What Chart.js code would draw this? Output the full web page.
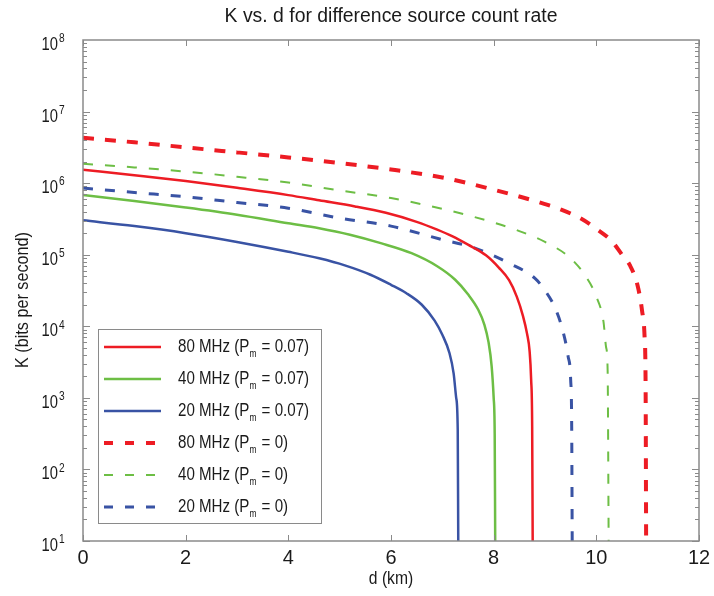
<!DOCTYPE html>
<html>
<head>
<meta charset="utf-8">
<script src="https://cdn.jsdelivr.net/npm/chart.js@4"></script>
<style>
  html, body { margin: 0; padding: 0; background: #fff; }
  #wrap { width: 714px; height: 596px; }
</style>
</head>
<body>
<div id="wrap"><canvas id="chart" width="714" height="596"></canvas></div>
<script>
// distance d (km) and key rate K (bits/s)

// 80 MHz, Pm = 0.07
const d80 = [0, 1, 2, 3, 4, 4.6, 5.3, 5.9, 6.5, 6.9, 7.2, 7.5, 7.85, 8.1, 8.3, 8.45, 8.57, 8.65, 8.7, 8.73, 8.75, 8.76];
const k80 = [1.54e6, 1.29e6, 1.07e6, 8.6e5, 6.8e5, 5.75e5, 4.73e5, 3.85e5, 2.88e5, 2.24e5, 1.8e5, 1.38e5, 9.8e4, 6.6e4, 4.4e4, 2.6e4, 1.4e4, 7.9e3, 4.5e3, 1.8e3, 400, 10];

// 40 MHz, Pm = 0.07
const d40 = [0, 1, 2, 3, 4, 4.6, 5.2, 5.8, 6.4, 6.9, 7.25, 7.5, 7.7, 7.82, 7.9, 7.96, 8.0, 8.02, 8.03];
const k40 = [6.82e5, 5.62e5, 4.57e5, 3.63e5, 2.75e5, 2.34e5, 1.9e5, 1.45e5, 1.05e5, 6.9e4, 4.47e4, 2.8e4, 1.7e4, 1.05e4, 6.0e3, 2.8e3, 1.0e3, 316, 10];

// 20 MHz, Pm = 0.07
const d20 = [0, 1, 2, 3, 4, 4.6, 5.1, 5.6, 6.0, 6.3, 6.6, 6.85, 7.0, 7.14, 7.22, 7.27, 7.3, 7.31];
const k20 = [3.02e5, 2.51e5, 2.0e5, 1.51e5, 1.1e5, 8.9e4, 7.1e4, 5.25e4, 3.8e4, 2.9e4, 2.0e4, 1.2e4, 7.6e3, 4.2e3, 2.2e3, 1.0e3, 355, 10];

// 80 MHz, Pm = 0
const d80z = [0, 1, 2, 3, 4, 5, 6, 7, 7.5, 8, 8.5, 9, 9.3, 9.7, 10, 10.3, 10.5, 10.65, 10.8, 10.89, 10.94, 10.96, 10.97];
const k80z = [4.3e6, 3.72e6, 3.16e6, 2.69e6, 2.29e6, 1.91e6, 1.55e6, 1.2e6, 1.0e6, 8.1e5, 6.5e5, 5.1e5, 4.3e5, 3.2e5, 2.3e5, 1.55e5, 1.0e5, 7.2e4, 3.8e4, 1.66e4, 7.1e3, 1.4e3, 10];

// 40 MHz, Pm = 0
const d40z = [0, 1, 2, 3, 4, 5, 6, 7, 7.5, 8, 8.5, 9, 9.5, 9.8, 10, 10.14, 10.19, 10.22, 10.24];
const k40z = [1.87e6, 1.66e6, 1.45e6, 1.23e6, 1.02e6, 7.9e5, 6.2e5, 4.37e5, 3.55e5, 2.82e5, 2.14e5, 1.51e5, 8.9e4, 4.9e4, 2.6e4, 1.15e4, 5.1e3, 2.45e3, 10];

// 20 MHz, Pm = 0
const d20z = [0, 1, 2, 3, 4, 5, 6, 7, 7.6, 8.3, 8.8, 9.0, 9.2, 9.35, 9.45, 9.5, 9.52, 9.53];
const k20z = [8.55e5, 7.4e5, 6.45e5, 5.37e5, 4.47e5, 3.24e5, 2.51e5, 1.62e5, 1.26e5, 7.6e4, 4.7e4, 3.16e4, 1.78e4, 8.5e3, 3.8e3, 1.78e3, 400, 10];

const xTicks = [0, 2, 4, 6, 8, 10, 12];
const yExponents = [1, 2, 3, 4, 5, 6, 7, 8];

const RED = '#ed1c24';
const GREEN = '#6dbe45';
const BLUE = '#3953a4';
const FONT = '"Liberation Sans", Arial, sans-serif';

const series = [
    { freq: '80 MHz', pm: '0.07', d: d80, k: k80, color: RED, width: 2.5, dash: [] },
    { freq: '40 MHz', pm: '0.07', d: d40, k: k40, color: GREEN, width: 2.5, dash: [] },
    { freq: '20 MHz', pm: '0.07', d: d20, k: k20, color: BLUE, width: 2.5, dash: [] },
    { freq: '80 MHz', pm: '0', d: d80z, k: k80z, color: RED, width: 4, dash: [11, 11] },
    { freq: '40 MHz', pm: '0', d: d40z, k: k40z, color: GREEN, width: 2, dash: [10, 12] },
    { freq: '20 MHz', pm: '0', d: d20z, k: k20z, color: BLUE, width: 3, dash: [10, 12] }
];

function line(ctx, x1, y1, x2, y2) {
    ctx.beginPath();
    ctx.moveTo(x1, y1);
    ctx.lineTo(x2, y2);
    ctx.stroke();
}

// text squeezed horizontally by sx, the original figure uses a narrow face
function text(ctx, str, x, y, size, align, sx) {
    ctx.save();
    ctx.font = size + 'px ' + FONT;
    ctx.textAlign = align;
    ctx.textBaseline = 'middle';
    ctx.translate(x, y);
    ctx.scale(sx, 1);
    ctx.fillText(str, 0, 0);
    const w = ctx.measureText(str).width * sx;
    ctx.restore();
    return w;
}

// frame, inward ticks, labels and the legend box
const decorations = {
    id: 'decorations',
    afterDraw(chart) {
        const { ctx, chartArea: a, scales: { x, y } } = chart;
        ctx.save();

        // ticks
        ctx.strokeStyle = '#8a8a8a';
        ctx.lineWidth = 1;
        for (let e = 1; e < 8; e++) {
            for (let m = 1; m < 10; m++) {
                const py = Math.round(y.getPixelForValue(m * Math.pow(10, e))) + 0.5;
                const len = m === 1 ? 7 : 4;
                line(ctx, a.left, py, a.left + len, py);
                line(ctx, a.right, py, a.right - len, py);
            }
        }
        xTicks.forEach(v => {
            const px = Math.round(x.getPixelForValue(v)) + 0.5;
            line(ctx, px, a.bottom, px, a.bottom - 6);
            line(ctx, px, a.top, px, a.top + 6);
        });

        // frame
        ctx.lineWidth = 1.5;
        ctx.strokeRect(a.left, a.top, a.right - a.left, a.bottom - a.top);

        ctx.fillStyle = '#1a1a1a';

        // x tick labels
        xTicks.forEach(v => text(ctx, String(v), x.getPixelForValue(v), a.bottom + 17, 21, 'center', 0.95));

        // y tick labels: 10 with a superscript exponent
        yExponents.forEach(e => {
            const py = y.getPixelForValue(Math.pow(10, e));
            text(ctx, '10', 58, py + 5, 18, 'right', 0.82);
            text(ctx, String(e), 59, py - 1, 12, 'left', 0.85);
        });

        // title and axis titles
        const cx = (a.left + a.right) / 2;
        text(ctx, 'K vs. d for difference source count rate', cx, 16, 20, 'center', 0.97);
        text(ctx, 'd (km)', cx, 579, 18, 'center', 0.87);
        ctx.save();
        ctx.translate(23, 300);
        ctx.rotate(-Math.PI / 2);
        text(ctx, 'K (bits per second)', 0, 0, 18, 'center', 0.9);
        ctx.restore();

        // legend
        const box = { left: 98, top: 329, right: 321, bottom: 523 };
        ctx.fillStyle = '#fff';
        ctx.fillRect(box.left, box.top, box.right - box.left, box.bottom - box.top);
        ctx.strokeStyle = '#8a8a8a';
        ctx.lineWidth = 1;
        ctx.strokeRect(box.left + 0.5, box.top + 0.5, box.right - box.left, box.bottom - box.top);

        series.forEach((s, i) => {
            const ly = 347 + i * 32;
            ctx.strokeStyle = s.color;
            ctx.lineWidth = s.width;
            ctx.setLineDash(s.dash.length ? [9, 12] : []);
            line(ctx, 104, ly, 161, ly);
            ctx.setLineDash([]);

            ctx.fillStyle = '#1a1a1a';
            let tx = 178;
            tx += text(ctx, s.freq + ' (P', tx, ly, 18, 'left', 0.84);
            tx += text(ctx, 'm', tx, ly + 7, 10, 'left', 0.84) + 1;
            text(ctx, ' = ' + s.pm + ')', tx, ly, 18, 'left', 0.84);
        });

        ctx.restore();
    }
};

new Chart(document.getElementById('chart'), {
    type: 'line',
    data: {
        datasets: series.map(s => ({
            label: s.freq + ' (Pm = ' + s.pm + ')',
            data: s.d.map((v, i) => ({ x: v, y: s.k[i] })),
            borderColor: s.color,
            borderWidth: s.width,
            borderDash: s.dash,
            pointRadius: 0,
            fill: false,
            cubicInterpolationMode: 'monotone'
        }))
    },
    options: {
        responsive: false,
        animation: false,
        devicePixelRatio: 1,
        layout: { padding: { left: 83, right: 15, top: 40, bottom: 55 } },
        plugins: {
            legend: { display: false },
            tooltip: { enabled: false },
            title: { display: false }
        },
        scales: {
            x: { type: 'linear', min: 0, max: 12, display: false },
            y: { type: 'logarithmic', min: 10, max: 1e8, display: false }
        }
    },
    plugins: [decorations]
});
</script>
</body>
</html>
